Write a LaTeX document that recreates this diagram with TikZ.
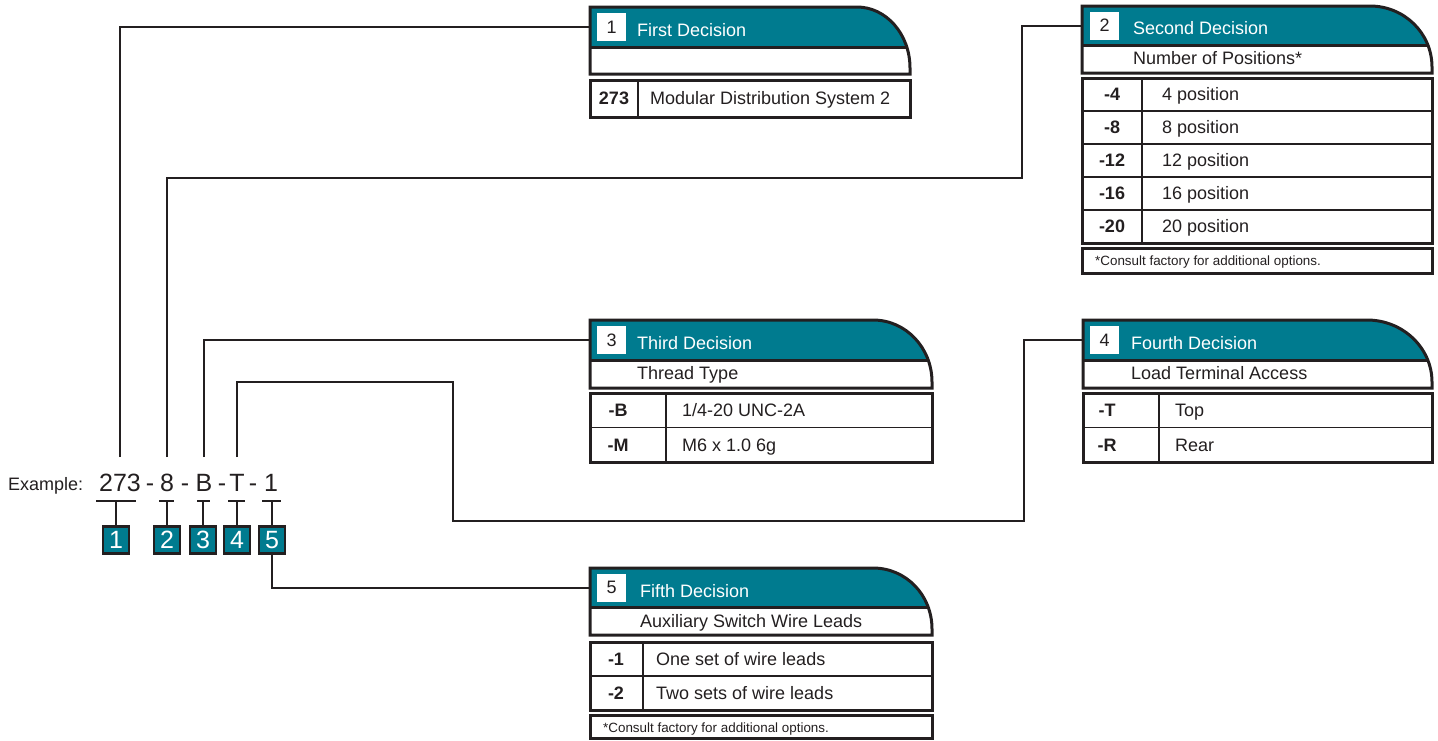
\documentclass[tikz,border=0pt]{standalone}
\usepackage{fontspec}
\setmainfont{Liberation Sans}
\definecolor{deco}{RGB}{0,123,143}
\definecolor{ink}{RGB}{35,31,32}

\begin{document}
\begin{tikzpicture}[x=1pt,y=-1pt,
	frame/.style={draw=ink,line width=3pt},
	rule/.style={draw=ink,line width=1.5pt},
	wire/.style={draw=ink,line width=2pt},
	bar/.style={draw=ink,line width=2.5pt},
	hnum/.style={fill=white,minimum width=29pt,minimum height=28pt,inner sep=0pt,text=ink,font=\fontsize{18}{20}\selectfont},
	title/.style={anchor=base west,inner sep=0pt,text=white,font=\fontsize{18}{20}\selectfont},
	sub/.style={anchor=base west,inner sep=0pt,text=ink,font=\fontsize{18}{20}\selectfont},
	code/.style={anchor=base,inner sep=0pt,text=ink,font=\fontsize{18}{20}\selectfont\bfseries},
	desc/.style={anchor=base west,inner sep=0pt,text=ink,font=\fontsize{18}{20}\selectfont},
	foot/.style={anchor=base west,inner sep=0pt,text=ink,font=\fontsize{13.4}{15}\selectfont},
	big/.style={anchor=base,inner sep=0pt,text=ink,font=\fontsize{25}{28}\selectfont},
	numbox/.style={fill=deco,draw=ink,line width=2.5pt,minimum width=26pt,minimum height=27pt,inner sep=0pt,text=white,font=\fontsize{25}{28}\selectfont}]
	\useasboundingbox (0,0) rectangle (1438,740);

	% First Decision
	\begin{scope}
		\clip (590,74) -- (590,7) -- (857,7) .. controls (886,7) and (910,34) .. (910,68) -- (910,74) -- cycle;
		\fill[deco] (590,7) rectangle (910,47);
		\draw[frame] (590,47) -- (910,47);
	\end{scope}
	\draw[frame] (590,74) -- (590,7) -- (857,7) .. controls (886,7) and (910,34) .. (910,68) -- (910,74) -- cycle;
	\node[hnum] (n1) at (611.5,27) {1};
	\node[title] (d1) at (637,36) {First Decision};
	\coordinate (h1) at (590,27);
	\draw[frame] (590,80) rectangle (910,117);
	\draw[rule] (638,80) -- (638,117);
	\node[code] (c1a) at (614,104.5) {273};
	\node[desc] (o1a) at (650,104.5) {Modular Distribution System 2};

	% Second Decision
	\begin{scope}
		\clip (1082,73) -- (1082,6) -- (1370,6) .. controls (1404,6) and (1432,33) .. (1432,67) -- (1432,73) -- cycle;
		\fill[deco] (1082,6) rectangle (1432,45);
		\draw[frame] (1082,45) -- (1432,45);
	\end{scope}
	\draw[frame] (1082,73) -- (1082,6) -- (1370,6) .. controls (1404,6) and (1432,33) .. (1432,67) -- (1432,73) -- cycle;
	\node[hnum] (n2) at (1104.5,25.5) {2};
	\node[title] (d2) at (1133,34) {Second Decision};
	\node[sub] (u2) at (1133,64) {Number of Positions*};
	\coordinate (h2) at (1082,26);
	\draw[frame] (1082,78) rectangle (1432,243);
	\draw[rule] (1142,78) -- (1142,243);
	\draw[rule] (1082,111) -- (1432,111);
	\draw[rule] (1082,144) -- (1432,144);
	\draw[rule] (1082,177) -- (1432,177);
	\draw[rule] (1082,210) -- (1432,210);
	\node[code] (c2a) at (1112,100.5) {-4};
	\node[code] (c2b) at (1112,133.5) {-8};
	\node[code] (c2c) at (1112,166.5) {-12};
	\node[code] (c2d) at (1112,199.5) {-16};
	\node[code] (c2e) at (1112,232.5) {-20};
	\node[desc] (o2a) at (1162,100.5) {4 position};
	\node[desc] (o2b) at (1162,133.5) {8 position};
	\node[desc] (o2c) at (1162,166.5) {12 position};
	\node[desc] (o2d) at (1162,199.5) {16 position};
	\node[desc] (o2e) at (1162,232.5) {20 position};
	\draw[frame] (1082,248) rectangle (1432,273);
	\node[foot] (f2) at (1095,265) {*Consult factory for additional options.};

	% Third Decision
	\begin{scope}
		\clip (590,388) -- (590,320) -- (873,320) .. controls (906,320) and (932,348) .. (932,382) -- (932,388) -- cycle;
		\fill[deco] (590,320) rectangle (932,360);
		\draw[frame] (590,360) -- (932,360);
	\end{scope}
	\draw[frame] (590,388) -- (590,320) -- (873,320) .. controls (906,320) and (932,348) .. (932,382) -- (932,388) -- cycle;
	\node[hnum] (n3) at (611.5,340) {3};
	\node[title] (d3) at (637,349) {Third Decision};
	\node[sub] (u3) at (637,379) {Thread Type};
	\coordinate (h3) at (590,340);
	\draw[frame] (590,393) rectangle (932,462);
	\draw[rule] (666,393) -- (666,462);
	\draw[rule] (590,427.5) -- (932,427.5);
	\node[code] (c3a) at (618,416) {-B};
	\node[code] (c3b) at (618,451) {-M};
	\node[desc] (o3a) at (682,416) {1/4-20 UNC-2A};
	\node[desc] (o3b) at (682,451) {M6 x 1.0 6g};

	% Fourth Decision
	\begin{scope}
		\clip (1083,388) -- (1083,320) -- (1367,320) .. controls (1403,320) and (1432,348) .. (1432,382) -- (1432,388) -- cycle;
		\fill[deco] (1083,320) rectangle (1432,360);
		\draw[frame] (1083,360) -- (1432,360);
	\end{scope}
	\draw[frame] (1083,388) -- (1083,320) -- (1367,320) .. controls (1403,320) and (1432,348) .. (1432,382) -- (1432,388) -- cycle;
	\node[hnum] (n4) at (1104.5,340) {4};
	\node[title] (d4) at (1131,349) {Fourth Decision};
	\node[sub] (u4) at (1131,379) {Load Terminal Access};
	\coordinate (h4) at (1083,340);
	\draw[frame] (1083,393) rectangle (1432,462);
	\draw[rule] (1159,393) -- (1159,462);
	\draw[rule] (1083,427.5) -- (1432,427.5);
	\node[code] (c4a) at (1107,416) {-T};
	\node[code] (c4b) at (1107,451) {-R};
	\node[desc] (o4a) at (1175,416) {Top};
	\node[desc] (o4b) at (1175,451) {Rear};

	% Fifth Decision
	\begin{scope}
		\clip (590,635) -- (590,568) -- (873,568) .. controls (906,568) and (932,595) .. (932,629) -- (932,635) -- cycle;
		\fill[deco] (590,568) rectangle (932,607);
		\draw[frame] (590,607) -- (932,607);
	\end{scope}
	\draw[frame] (590,635) -- (590,568) -- (873,568) .. controls (906,568) and (932,595) .. (932,629) -- (932,635) -- cycle;
	\node[hnum] (n5) at (611.5,587.5) {5};
	\node[title] (d5) at (640,597) {Fifth Decision};
	\node[sub] (u5) at (640,627) {Auxiliary Switch Wire Leads};
	\coordinate (h5) at (590,588);
	\draw[frame] (590,642) rectangle (932,710);
	\draw[rule] (643,642) -- (643,710);
	\draw[rule] (590,676) -- (932,676);
	\node[code] (c5a) at (616,665) {-1};
	\node[code] (c5b) at (616,699) {-2};
	\node[desc] (o5a) at (656,665) {One set of wire leads};
	\node[desc] (o5b) at (656,699) {Two sets of wire leads};
	\draw[frame] (590,715) rectangle (932,738);
	\node[foot] (f5) at (603,732) {*Consult factory for additional options.};

	% example part number
	\node[desc] (ex) at (8,490) {Example:};
	\node[big] (e1) at (120,491) {273};
	\node[big] (k1) at (150,491) {-};
	\node[big] (e2) at (167,491) {8};
	\node[big] (k2) at (185,491) {-};
	\node[big] (e3) at (204,491) {B};
	\node[big] (k3) at (222,491) {-};
	\node[big] (e4) at (237,491) {T};
	\node[big] (k4) at (253,491) {-};
	\node[big] (e5) at (271,491) {1};

	\draw[bar] (96,501) -- (136,501);
	\draw[bar] (159,501) -- (174,501);
	\draw[bar] (197,501) -- (210,501);
	\draw[bar] (228,501) -- (245,501);
	\draw[bar] (262,501) -- (281,501);

	\node[numbox] (lab1) at (116,540) {1};
	\node[numbox] (lab2) at (167,540) {2};
	\node[numbox] (lab3) at (203,540) {3};
	\node[numbox] (lab4) at (237,540) {4};
	\node[numbox] (lab5) at (272,540) {5};

	\draw[wire] (lab1.north) -- (116,501);
	\draw[wire] (lab2.north) -- (167,501);
	\draw[wire] (lab3.north) -- (203,501);
	\draw[wire] (lab4.north) -- (237,501);
	\draw[wire] (lab5.north) -- (272,501);

	% connectors
	\coordinate (s1) at (120,457);
	\coordinate (s2) at (167,457);
	\coordinate (s3) at (204,457);
	\coordinate (s4) at (237,457);
	\draw[wire] (s1) |- (h1);
	\draw[wire] (s2) |- (1022,178) |- (h2);
	\draw[wire] (s3) |- (h3);
	\draw[wire] (s4) |- (453,382) |- (1024,521) |- (h4);
	\draw[wire] (lab5.south) |- (h5);
\end{tikzpicture}
\end{document}
